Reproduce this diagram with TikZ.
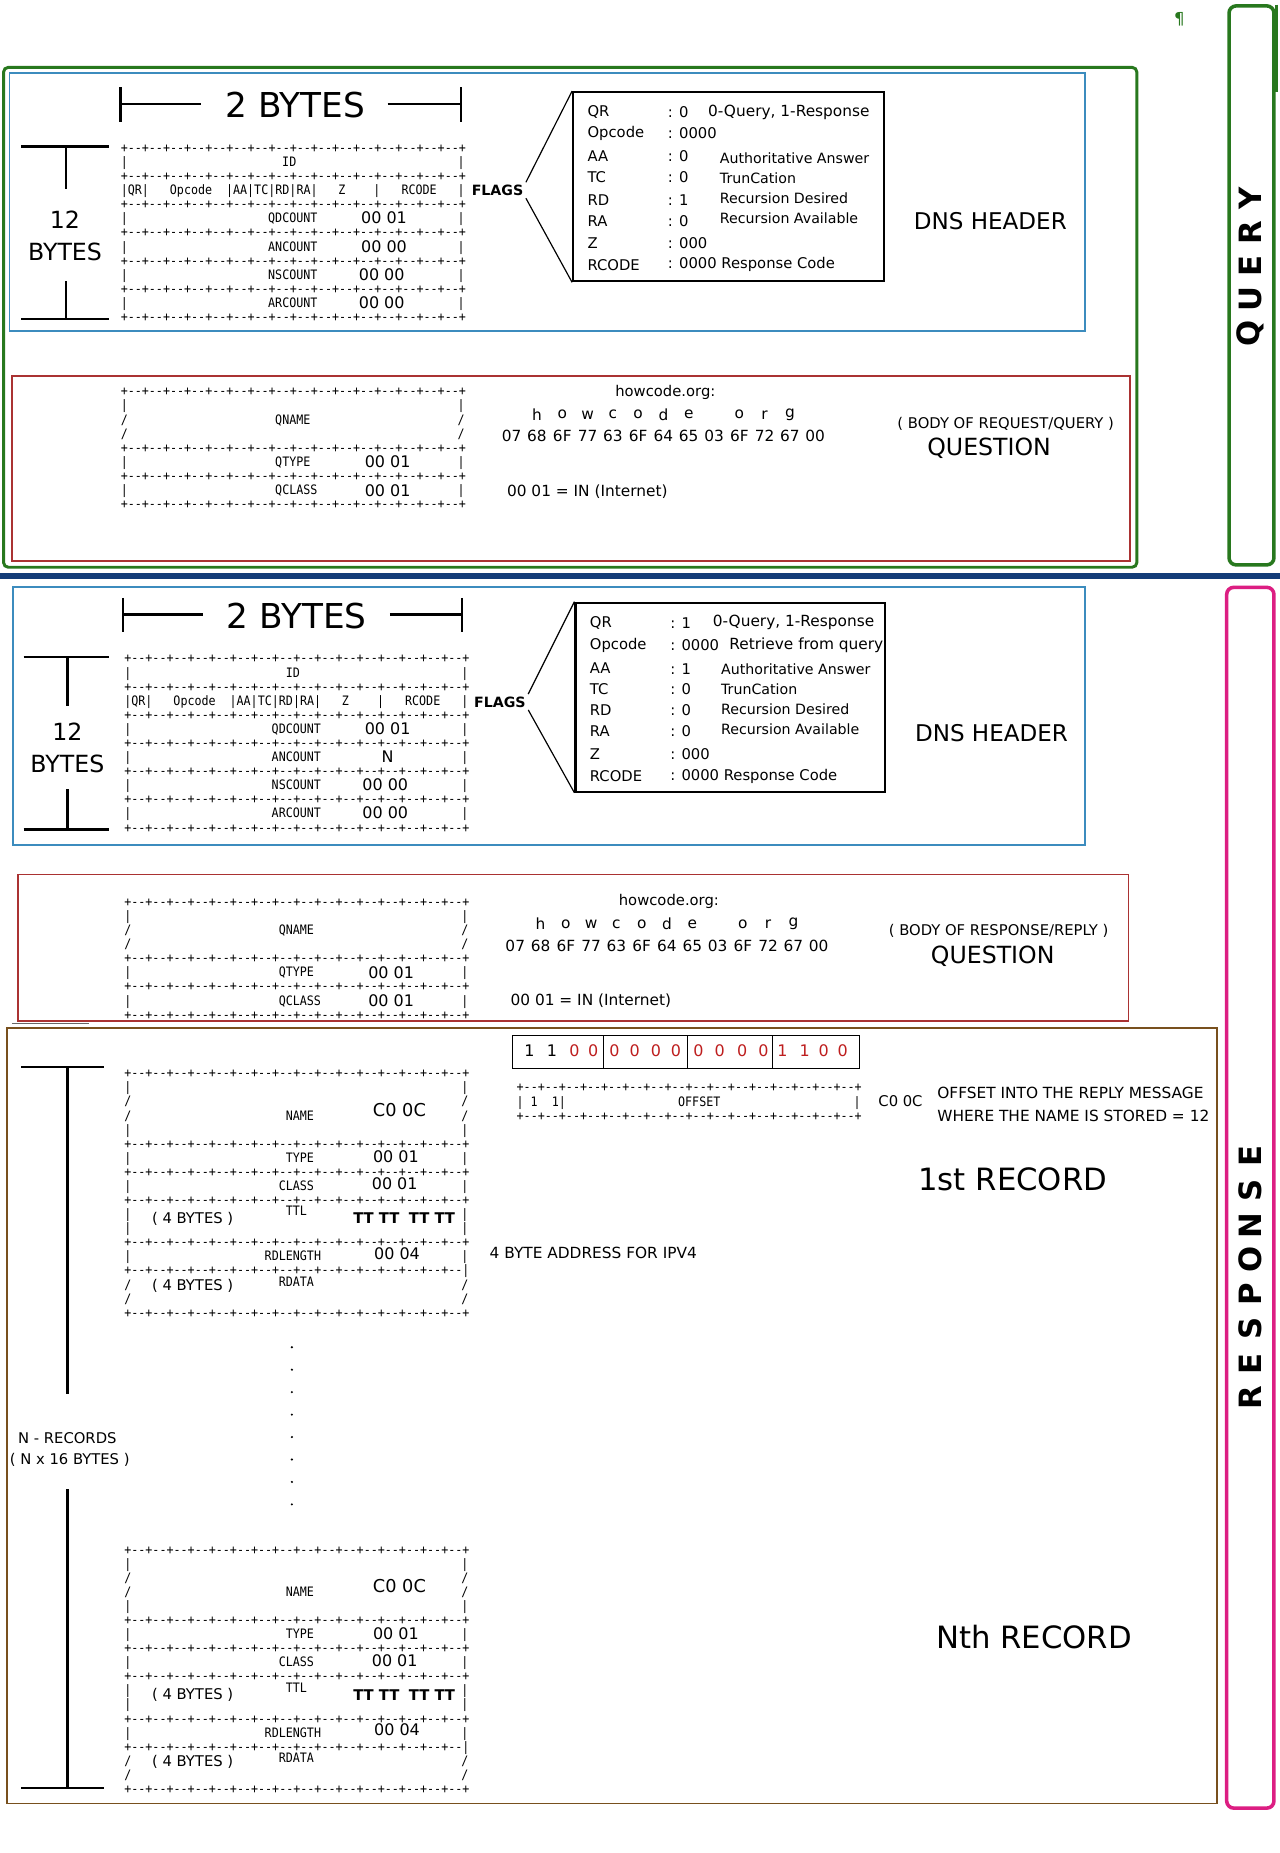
\documentclass[tikz,border=0pt]{standalone}
\usepackage{fontspec}
\setmainfont{DejaVu Sans}
\newfontfamily\asciifont[FakeStretch=0.9]{DejaVu Sans Mono}
\definecolor{qgreen}{RGB}{40,120,30}
\definecolor{hblue}{RGB}{60,140,190}
\definecolor{qred}{RGB}{170,50,50}
\definecolor{abrown}{RGB}{120,80,30}
\definecolor{navyband}{RGB}{20,60,120}
\definecolor{rmag}{RGB}{220,30,130}
\definecolor{bitred}{RGB}{190,30,30}
\newcommand\fsz[1]{\fontsize{#1}{#1}\selectfont}
\newcommand\asd{-\kern0pt-\kern0pt+}
\newcommand\asepl{+\asd\asd\asd\asd\asd\asd\asd\asd\asd\asd\asd\asd\asd\asd\asd\asd}
\newcommand\asepb{+\asd\asd\asd\asd\asd\asd\asd\asd\asd\asd\asd\asd\asd\asd\asd-\kern0pt-\kern0pt|}
\newcommand\ac[3]{\node[asc] at ({#1*5.94},{#2*11.92+4}) {#3};}
\newcommand\asep[1]{\ac{0}{#1}{\asepl}}
\newcommand\abar[1]{\ac{0}{#1}{|}\ac{48}{#1}{|}}
\newcommand\aslash[1]{\ac{0}{#1}{/}\ac{48}{#1}{/}}
\tikzset{
  asc/.style={font=\asciifont\fsz{11}, inner sep=0, anchor=base west},
  val/.style={font=\fsz{13.5}, inner sep=0},
  lbl/.style={font=\fsz{12.5}, inner sep=0},
  big/.style={font=\fsz{29}, inner sep=0},
  mid/.style={font=\fsz{20}, inner sep=0},
  rec/.style={font=\fsz{26}, inner sep=0},
  flg/.style={font=\bfseries\fsz{12}, inner sep=2},
  ft/.style={font=\fsz{12.5}, inner sep=0, anchor=west},
  fd/.style={font=\fsz{12}, inner sep=0, anchor=west},
  brk/.style={line width=2},
  vt/.style={font=\bfseries\fsz{26}, rotate=90, inner sep=0},
  hex/.style={font=\fsz{13}, inner sep=0},
}
\newcommand\hdrtable[3]{%
\begin{scope}[shift={(#1,#2)}]
\foreach \ai in {0,2,4,6,8,10,12} {\asep{\ai}}
\abar{1}\ac{23}{1}{ID}
\ac{0}{3}{|QR|}\ac{7}{3}{Opcode}\ac{15}{3}{|AA|TC|RD|RA|}\ac{31}{3}{Z}\ac{36}{3}{|}\ac{40}{3}{RCODE}\ac{48}{3}{|}
\abar{5}\ac{21}{5}{QDCOUNT}
\abar{7}\ac{21}{7}{ANCOUNT}
\abar{9}\ac{21}{9}{NSCOUNT}
\abar{11}\ac{21}{11}{ARCOUNT}
\node[val] at (223,59.6) {00 01};
\node[val] at (223,83.4) {#3};
\node[val] at (221,107.3) {00 00};
\node[val] at (221,131.1) {00 00};
\end{scope}}
\newcommand\qtable[2]{%
\begin{scope}[shift={(#1,#2)}]
\foreach \ai in {0,4,6,8} {\asep{\ai}}
\abar{1}\aslash{2}\ac{22}{2}{QNAME}\aslash{3}
\abar{5}\ac{22}{5}{QTYPE}
\abar{7}\ac{22}{7}{QCLASS}
\node[val] at (226,60) {00 01};
\node[val] at (226,84) {00 01};
\end{scope}}
\newcommand\rrecord[2]{%
\begin{scope}[shift={(#1,#2)}]
\foreach \ai in {0,5,7,9,12,17} {\asep{\ai}}
\ac{0}{14}{\asepb}
\abar{1}\aslash{2}\aslash{3}\ac{23}{3}{NAME}\abar{4}
\abar{6}\ac{23}{6}{TYPE}
\abar{8}\ac{22}{8}{CLASS}
\abar{10}\ac{23}{9.8}{TTL}\abar{11}
\abar{13}\ac{20}{13}{RDLENGTH}
\aslash{15}\ac{22}{14.8}{RDATA}\aslash{16}
\node[val,font=\fsz{15}] at (233,31) {C0 0C};
\node[val] at (230,71) {00 01};
\node[val] at (229,94) {00 01};
\node[val,font=\bfseries\fsz{12.5}] at (237,123) {TT TT\hspace{8pt}TT TT};
\node[lbl] at (58,123) {( 4 BYTES )};
\node[val] at (231,153) {00 04};
\node[lbl] at (58,180) {( 4 BYTES )};
\end{scope}}
\newcommand\hexrow[3]{% x0, y letters, y hex
\foreach \k/\hb in {0/07,1/68,2/6F,3/77,4/63,5/6F,6/64,7/65,8/03,9/6F,10/72,11/67,12/00}
  {\node[hex] at ({#1+21.4*\k},#3) {\hb};}
\foreach \k/\lt in {1/h,2/o,3/w,4/c,5/o,6/d,7/e,9/o,10/r,11/g}
  {\node[hex] at ({#1+21.4*\k},#2) {\lt};}
}
\begin{document}
\begin{tikzpicture}[x=1pt,y=-1pt]
\fill[white] (0,0) rectangle (1083,1568);
\useasboundingbox (0,0) rectangle (1083,1568);

% ---------------- QUERY -----------------
\draw[qgreen, line width=2.5, rounded corners=4] (3,57) rectangle (962,480);
\draw[hblue, line width=1.5] (8,62) rectangle (918,280);
\draw[qred, line width=1.5] (10,318) rectangle (956,475);

\node[big] (q2b) at (250,89) {2 BYTES};
\draw[brk] (102,74) -- (102,103);
\draw[brk] (102,88) -- (170,88);
\draw[brk] (328,88) -- (390,88);
\draw[brk] (390,74) -- (390,103);

\node[mid] (q12) at (55,186) {12};
\node[mid] (qby) at (55,213) {BYTES};
\draw[brk] (18,124) -- (92,124);
\draw[brk] (56,124) -- (56,160);
\draw[brk] (56,238) -- (56,270);
\draw[brk] (18,270) -- (92,270);

\hdrtable{102}{125}{00 00}

\node[flg] (qflg) at (421,161) {FLAGS};
\node[draw, line width=1.8, minimum width=263, minimum height=160, inner sep=0] (qfb) at (616.5,158) {};
\draw[line width=1] (qflg.north east) -- (qfb.north west);
\draw[line width=1] (qflg.south east) -- (qfb.south west);

\node[ft] at (497,95) {QR};
\node[ft] at (497,113) {Opcode};
\node[ft] at (497,132) {AA};
\node[ft] at (497,150) {TC};
\node[ft] at (497,169) {RD};
\node[ft] at (497,187) {RA};
\node[ft] at (497,206) {Z};
\node[ft] at (497,224) {RCODE};
\node[ft] at (565,95) {: 0};
\node[ft] at (565,113) {: 0000};
\node[ft] at (565,132) {: 0};
\node[ft] at (565,150) {: 0};
\node[ft] at (565,169) {: 1};
\node[ft] at (565,187) {: 0};
\node[ft] at (565,206) {: 000};
\node[ft] at (565,224) {: 0000 Response Code};
\node[ft,font=\fsz{13}] at (599,95) {0-Query, 1-Response};
\node[fd] at (609,134) {Authoritative Answer};
\node[fd] at (609,151) {TrunCation};
\node[fd] at (609,168) {Recursion Desired};
\node[fd] at (609,185) {Recursion Available};

\node[font=\fsz{19.5}, inner sep=0] (qdns) at (838,187) {DNS HEADER};

\qtable{102}{331}
\node[lbl] (qhow) at (563,332) {howcode.org:};
\hexrow{433}{351}{369}
\node[font=\fsz{13}, inner sep=0] (qin) at (497,416) {00 01 = IN (Internet)};
\node[lbl] (qbody) at (851,359) {( BODY OF REQUEST/QUERY )};
\node[font=\fsz{20}, inner sep=0] (qq) at (837,379) {QUESTION};

% side label QUERY
\draw[qgreen, line width=3, rounded corners=6] (1040,5) rectangle (1078,478);
\draw[qgreen, line width=3] (1080,4) -- (1080,78);
\node[text=qgreen, font=\fsz{14}, inner sep=0] (pil) at (998,16) {¶};
\foreach \ch/\yy in {Q/282,U/253,E/225,R/197,Y/168}
  {\node[vt] at (1058,\yy) {\ch};}

% band
\fill[navyband] (0,485) rectangle (1083,490);

% ---------------- RESPONSE -----------------
\draw[hblue, line width=1.5] (11,497) rectangle (918,715);
\draw[qred, line width=1.5] (15,740) rectangle (955,864);
\draw[black!60, line width=1] (10,866) -- (75,866);
\draw[abrown, line width=1.5] (6,870) rectangle (1030,1526);

\node[big] (r2b) at (251,521) {2 BYTES};
\draw[brk] (104,506) -- (104,535);
\draw[brk] (104,520) -- (172,520);
\draw[brk] (330,520) -- (391,520);
\draw[brk] (391,506) -- (391,535);

\node[mid] (r12) at (57,619) {12};
\node[mid] (rby) at (57,646) {BYTES};
\draw[brk] (20,556) -- (92,556);
\draw[brk] (57,556) -- (57,597);
\draw[brk] (57,668) -- (57,702);
\draw[brk] (20,702) -- (92,702);

\hdrtable{105}{557}{N}

\node[flg] (rflg) at (423,594) {FLAGS};
\node[draw, line width=1.8, minimum width=262, minimum height=160, inner sep=0] (rfb) at (618,590) {};
\draw[line width=1] (rflg.north east) -- (rfb.north west);
\draw[line width=1] (rflg.south east) -- (rfb.south west);

\node[ft] at (499,527) {QR};
\node[ft] at (499,546) {Opcode};
\node[ft] at (499,565) {AA};
\node[ft] at (499,583) {TC};
\node[ft] at (499,601) {RD};
\node[ft] at (499,619) {RA};
\node[ft] at (499,638) {Z};
\node[ft] at (499,657) {RCODE};
\node[ft] at (567,527) {: 1};
\node[ft] at (567,546) {: 0000};
\node[ft] at (567,566) {: 1};
\node[ft] at (567,583) {: 0};
\node[ft] at (567,601) {: 0};
\node[ft] at (567,619) {: 0};
\node[ft] at (567,638) {: 000};
\node[ft] at (567,657) {: 0000 Response Code};
\node[ft,font=\fsz{13}] at (603,527) {0-Query, 1-Response};
\node[ft,font=\fsz{13}] at (617,546) {Retrieve from query};
\node[fd] at (610,566) {Authoritative Answer};
\node[fd] at (610,583) {TrunCation};
\node[fd] at (610,600) {Recursion Desired};
\node[fd] at (610,617) {Recursion Available};

\node[font=\fsz{19.5}, inner sep=0] (rdns) at (839,620) {DNS HEADER};

\qtable{105}{763}
\node[lbl] (rhow) at (566,763) {howcode.org:};
\hexrow{436}{782}{800}
\node[font=\fsz{13}, inner sep=0] (rin) at (500,847) {00 01 = IN (Internet)};
\node[lbl] (rbody) at (845,788) {( BODY OF RESPONSE/REPLY )};
\node[font=\fsz{20}, inner sep=0] (rq) at (840,809) {QUESTION};

% bits
\node[draw, line width=1, minimum width=293, minimum height=28, inner sep=0] (bits) at (580.5,890) {};
\draw[line width=0.8] (511,876) -- (511,904);
\draw[line width=0.8] (582,876) -- (582,904);
\draw[line width=0.8] (654,876) -- (654,904);
\foreach \xx/\dg/\cc in {448/1/black,467/1/black,486/0/bitred,502/0/bitred,
  520/0/bitred,537/0/bitred,555/0/bitred,572/0/bitred,
  591/0/bitred,609/0/bitred,628/0/bitred,646/0/bitred,
  662/1/bitred,681/1/bitred,697/0/bitred,713/0/bitred}
  {\node[font=\fsz{13.5}, text=\cc, inner sep=0] at (\xx,889) {\dg};}

\begin{scope}[shift={(437,920)}]
\asep{0}\asep{2}
\ac{0}{1}{|}\ac{2}{1}{1}\ac{5}{1}{1}\ac{6}{1}{|}\ac{23}{1}{OFFSET}\ac{48}{1}{|}
\end{scope}
\node[lbl] (c0) at (762,932) {C0 0C};
\node[font=\fsz{13}, inner sep=0, anchor=west] (off1) at (793,925) {OFFSET INTO THE REPLY MESSAGE};
\node[font=\fsz{13}, inner sep=0, anchor=west] (off2) at (793,944) {WHERE THE NAME IS STORED = 12};

\node[rec] (first) at (857,998) {1st RECORD};
\node[font=\fsz{13}, inner sep=0] (ipv4) at (502,1060) {4 BYTE ADDRESS FOR IPV4};
\node[rec] (nth) at (875,1385) {Nth RECORD};

\rrecord{105}{908}
\rrecord{105}{1311}

\foreach \yy in {1140,1159,1178,1197,1216,1235,1254,1273}
  {\fill (247,\yy) circle (1);}

\node[lbl] (nrec) at (57,1217) {N - RECORDS};
\node[lbl] (nx) at (59,1235) {( N x 16 BYTES )};
\draw[brk] (18,903) -- (88,903);
\draw[brk] (57,903) -- (57,1180);
\draw[brk] (57,1260) -- (57,1513);
\draw[brk] (18,1513) -- (88,1513);

% side label RESPONSE
\draw[rmag, line width=3, rounded corners=6] (1038,497) rectangle (1078,1530);
\foreach \ch/\yy in {R/1183,E/1154,S/1124,P/1095,O/1066,N/1037,S/1007,E/978}
  {\node[vt] at (1058,\yy) {\ch};}
\end{tikzpicture}
\end{document}
